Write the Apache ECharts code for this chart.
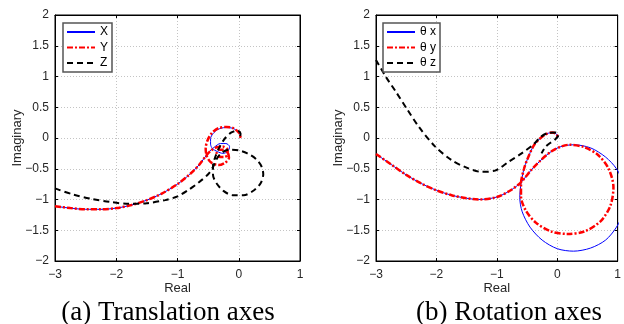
<!DOCTYPE html>
<html>
<head>
<meta charset="utf-8">
<script src="https://cdn.jsdelivr.net/npm/echarts@6/dist/echarts.min.js"></script>
<style>
    html, body { margin: 0; padding: 0; background: #fff; }
    #chart { width: 624px; height: 324px; }
</style>
</head>
<body>
<div id="chart"></div>
<script>
// axis ranges (both panels share them)
const xMin = -3, xMax = 1, xStep = 1;
const yMin = -2, yMax = 2, yStep = 0.5;

const captions = ['(a) Translation axes', '(b) Rotation axes'];
const transNames = ['X', 'Y', 'Z'];
const rotNames = ['\u03b8 x', '\u03b8 y', '\u03b8 z'];

// (a) translation: shared approach of X and Y from the left
const transMain = [
    [-3, -1.11], [-2.75, -1.14], [-2.5, -1.16], [-2.25, -1.16], [-2.0, -1.14],
    [-1.75, -1.09], [-1.5, -1.01], [-1.25, -0.9], [-1.0, -0.75], [-0.8, -0.59],
    [-0.65, -0.44], [-0.55, -0.31]
];
const transXTail = [
    [-0.48, -0.22], [-0.4, -0.15], [-0.3, -0.09], [-0.21, -0.09], [-0.15, -0.14],
    [-0.18, -0.22], [-0.26, -0.25], [-0.35, -0.22], [-0.43, -0.17], [-0.46, -0.1],
    [-0.46, -0.01], [-0.42, 0.07], [-0.34, 0.14], [-0.22, 0.17], [-0.1, 0.16],
    [-0.01, 0.1], [0.03, 0.04], [0.02, 0.0]
];
const transYTail = [
    [-0.46, -0.21], [-0.36, -0.15], [-0.26, -0.14], [-0.19, -0.18], [-0.18, -0.26],
    [-0.23, -0.31], [-0.31, -0.31], [-0.36, -0.25], [-0.33, -0.19], [-0.25, -0.19],
    [-0.18, -0.24], [-0.16, -0.32], [-0.22, -0.4], [-0.33, -0.44], [-0.45, -0.4],
    [-0.52, -0.3], [-0.54, -0.17], [-0.51, -0.04], [-0.44, 0.08], [-0.33, 0.16],
    [-0.2, 0.18], [-0.09, 0.16], [-0.01, 0.1], [0.03, 0.04], [0.02, 0.0]
];
const transZ = [
    [-3, -0.82], [-2.7, -0.92], [-2.4, -0.99], [-2.1, -1.04], [-1.8, -1.07],
    [-1.5, -1.06], [-1.2, -1.01], [-1.0, -0.95], [-0.83, -0.85], [-0.65, -0.72],
    [-0.5, -0.59], [-0.42, -0.47], [-0.36, -0.34], [-0.28, -0.24], [-0.16, -0.19],
    [0.0, -0.2], [0.14, -0.25], [0.28, -0.34], [0.37, -0.46], [0.4, -0.59],
    [0.36, -0.73], [0.25, -0.85], [0.08, -0.93], [-0.1, -0.93], [-0.25, -0.86],
    [-0.36, -0.74], [-0.42, -0.6], [-0.42, -0.45], [-0.38, -0.3], [-0.31, -0.14],
    [-0.22, 0.0], [-0.12, 0.09], [-0.02, 0.12], [0.03, 0.07], [0.02, 0.02]
];

// (b) rotation
const rotMain = [
    [-3, -0.26], [-2.75, -0.43], [-2.5, -0.6], [-2.25, -0.74], [-2.0, -0.85],
    [-1.75, -0.93], [-1.5, -0.98], [-1.3, -1.0], [-1.0, -0.96], [-0.77, -0.85],
    [-0.6, -0.72], [-0.43, -0.52], [-0.27, -0.36], [-0.1, -0.22], [0.06, -0.14]
];
const rotXCircle = [
    [0.27, -0.11], [0.55, -0.16], [0.8, -0.31], [0.98, -0.5], [1.1, -0.75],
    [1.13, -0.97], [1.1, -1.2], [0.98, -1.45], [0.8, -1.66], [0.55, -1.79],
    [0.27, -1.84], [0.0, -1.8], [-0.25, -1.66], [-0.45, -1.45], [-0.58, -1.2],
    [-0.62, -0.97], [-0.6, -0.74]
];
const rotYCircle = [
    [0.2, -0.11], [0.45, -0.15], [0.68, -0.28], [0.85, -0.5], [0.93, -0.8],
    [0.88, -1.1], [0.72, -1.35], [0.45, -1.52], [0.17, -1.56], [-0.1, -1.52],
    [-0.35, -1.38], [-0.52, -1.18], [-0.6, -0.95], [-0.6, -0.74]
];
const rotHook = [
    [-0.55, -0.5], [-0.5, -0.36], [-0.38, -0.11], [-0.21, 0.05], [-0.08, 0.09],
    [-0.01, 0.06], [0.01, 0.01]
];
const rotZ = [
    [-3, 1.27], [-2.84, 1.0], [-2.67, 0.75], [-2.48, 0.46], [-2.29, 0.18],
    [-2.02, -0.14], [-1.75, -0.36], [-1.53, -0.47], [-1.26, -0.55], [-1.03, -0.53],
    [-0.81, -0.39], [-0.59, -0.25], [-0.4, -0.11], [-0.27, 0.02], [-0.16, 0.08],
    [-0.02, 0.09], [0.02, 0.05], [-0.04, -0.03], [-0.13, -0.09], [-0.2, -0.15],
    [-0.26, -0.25]
];

const transX = transMain.concat(transXTail);
const transY = transMain.concat(transYTail);
const rotX = rotMain.concat(rotXCircle, rotHook);
const rotY = rotMain.concat(rotYCircle, rotHook);

const fmt = (v) => (v < 0 ? '\u2212' + Math.abs(v) : String(v));
const labelFont = { fontFamily: 'Liberation Sans', fontSize: 12, color: '#262626' };

function xAxes(gridIndex) {
    const base = {
        type: 'value', gridIndex, min: xMin, max: xMax, interval: xStep,
        axisLine: { onZero: false, lineStyle: { color: '#000', width: 1 } },
        axisTick: { inside: true, length: 3, lineStyle: { color: '#000' } }
    };
    return [
        {
            ...base, position: 'bottom', name: 'Real', nameLocation: 'middle', nameGap: 21,
            nameMoveOverlap: false,
            nameTextStyle: { ...labelFont, fontSize: 13 },
            axisLabel: { ...labelFont, margin: 8, formatter: fmt },
            splitLine: { show: true, lineStyle: { color: '#c4c4c4', type: [1, 2], width: 1 } }
        },
        { ...base, position: 'top', axisLabel: { show: false }, splitLine: { show: false } }
    ];
}

function yAxes(gridIndex) {
    const base = {
        type: 'value', gridIndex, min: yMin, max: yMax, interval: yStep,
        axisLine: { onZero: false, lineStyle: { color: '#000', width: 1 } },
        axisTick: { inside: true, length: 3, lineStyle: { color: '#000' } }
    };
    return [
        {
            ...base, position: 'left', name: 'Imaginary', nameLocation: 'middle', nameGap: 31,
            nameMoveOverlap: false,
            nameTextStyle: { ...labelFont, fontSize: 13 },
            axisLabel: { ...labelFont, margin: 6, formatter: fmt },
            splitLine: { show: true, lineStyle: { color: '#c4c4c4', type: [1, 2], width: 1 } }
        },
        { ...base, position: 'right', axisLabel: { show: false }, splitLine: { show: false } }
    ];
}

const blue = { color: '#0000ff', width: 1 };
const red = { color: '#ff0000', width: 2.5, type: [6, 2, 2, 2] };
const black = { color: '#000000', width: 2, type: [6, 4] };

function line(name, data, style, axisIndex) {
    return {
        name, type: 'line', data, xAxisIndex: axisIndex, yAxisIndex: axisIndex,
        symbol: 'none', smooth: 0.3, clip: true,
        lineStyle: style, itemStyle: { color: style.color }
    };
}

function legend(names, left, top) {
    return {
        data: names, orient: 'vertical', left, top,
        itemWidth: 28, itemHeight: 10, itemGap: 3.5,
        padding: [3, 4, 3, 3],
        borderColor: '#555', borderWidth: 1.5, backgroundColor: '#fff',
        itemStyle: { opacity: 0, borderWidth: 0 },
        textStyle: { fontFamily: 'Liberation Sans', fontSize: 12, color: '#000' }
    };
}

const chart = echarts.init(document.getElementById('chart'), null, { renderer: 'canvas' });
chart.setOption({
    animation: false,
    backgroundColor: '#fff',
    grid: [
        { left: 55, top: 15, width: 245, height: 246, show: true, borderColor: '#000', borderWidth: 1, backgroundColor: '#fff' },
        { left: 376, top: 15, width: 245, height: 246, show: true, borderColor: '#000', borderWidth: 1, backgroundColor: '#fff' }
    ],
    xAxis: [...xAxes(0), ...xAxes(1)],
    yAxis: [...yAxes(0), ...yAxes(1)],
    legend: [legend(transNames, 63, 23), legend(rotNames, 383, 23)],
    series: [
        line(transNames[0], transX, blue, 0),
        line(transNames[1], transY, red, 0),
        line(transNames[2], transZ, black, 0),
        line(rotNames[0], rotX, blue, 2),
        line(rotNames[1], rotY, red, 2),
        line(rotNames[2], rotZ, black, 2)
    ],
    graphic: [
        { type: 'text', x: 168, y: 313, style: { text: captions[0], align: 'center', verticalAlign: 'middle', fontFamily: 'Liberation Serif', fontSize: 27, fill: '#000' } },
        { type: 'text', x: 509, y: 313, style: { text: captions[1], align: 'center', verticalAlign: 'middle', fontFamily: 'Liberation Serif', fontSize: 27, fill: '#000' } }
    ]
});
</script>
</body>
</html>
